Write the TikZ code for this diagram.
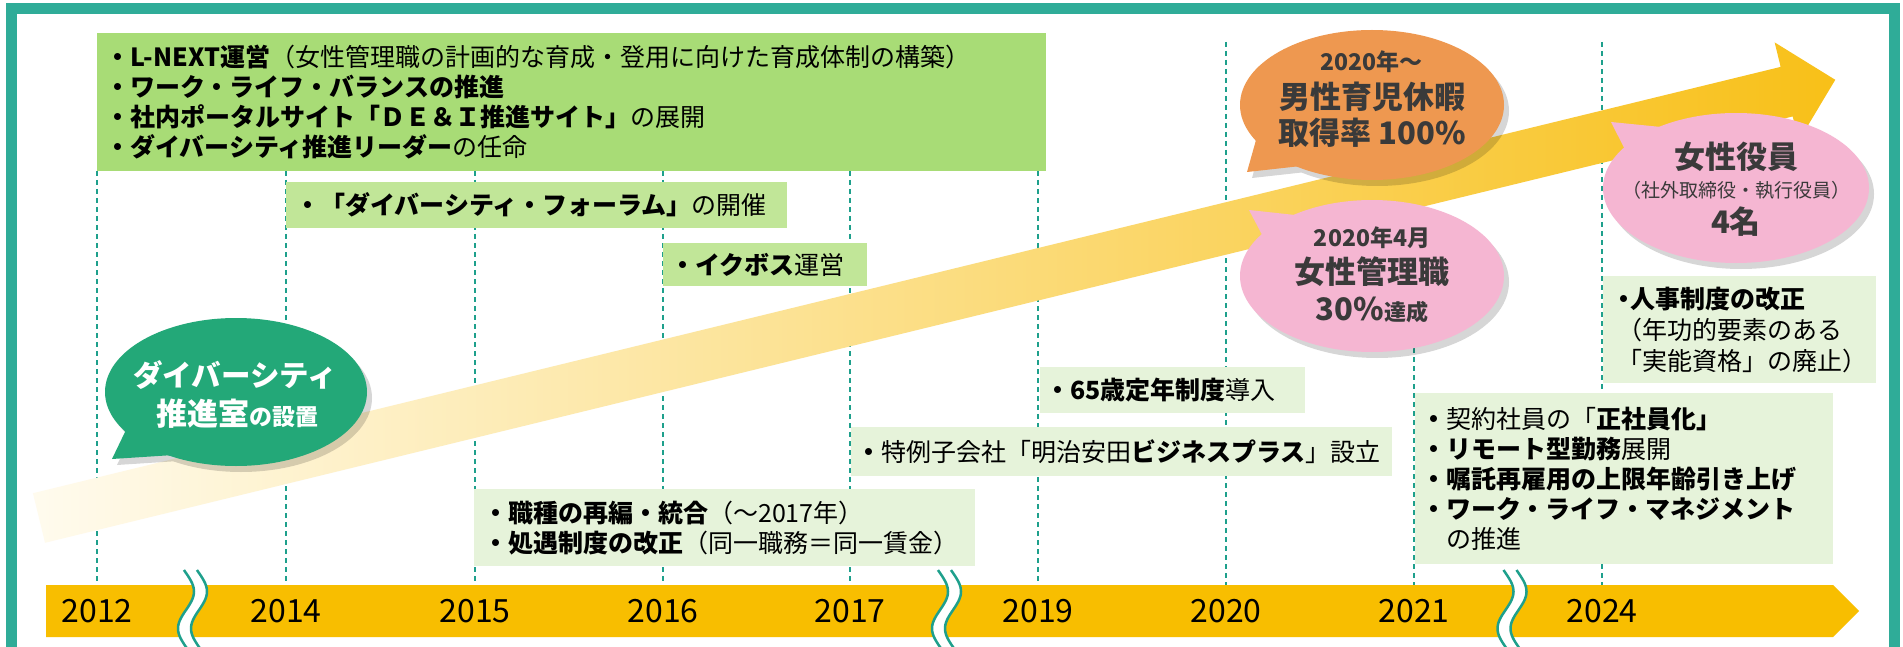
\documentclass[tikz,border=0pt]{standalone}
\usepackage{fontspec}
\setmainfont{Noto Sans CJK JP}
\usetikzlibrary{shapes.geometric}
\definecolor{frameteal}{RGB}{47,172,152}
\definecolor{dashteal}{RGB}{30,160,140}
\definecolor{boxgreen}{RGB}{168,220,118}
\definecolor{midgreen}{RGB}{193,230,152}
\definecolor{palegreen}{RGB}{230,243,218}
\definecolor{baryellow}{RGB}{248,190,0}
\definecolor{arrowA}{RGB}{255,251,238}
\definecolor{arrowB}{RGB}{250,214,100}
\definecolor{arrowC}{RGB}{248,192,24}
\definecolor{bubgreen}{RGB}{35,168,120}
\definecolor{buborange}{RGB}{238,152,80}
\definecolor{bubpink}{RGB}{245,182,210}
\definecolor{bubtext}{RGB}{58,58,58}
\newcommand{\bul}{\textbf{・}}
\tikzset{
 infobox/.style={rectangle, anchor=north west, inner ysep=0pt, align=left, font=\fontsize{25}{30}\selectfont, text=black},
 dashline/.style={dashteal, dash pattern=on 5pt off 4pt, line width=1.3pt},
 bubble/.style={ellipse, inner sep=0pt, draw=none},
 bubshadow/.style={fill=black, opacity=0.16},
 yearlabel/.style={font=\fontsize{32}{32}\selectfont, text=black, inner sep=0pt},
 bubtxt/.style={inner sep=0pt, align=center, text=bubtext},
 bigb/.style={font=\bfseries\fontsize{31}{31}\selectfont},
 smallb/.style={font=\bfseries\fontsize{23}{23}\selectfont},
 brkline/.style={dashteal, line width=2.5pt},
 brk/.pic={
  \fill[white] plot[domain=-40:45, samples=40, variable=\t] ({-6.5+8*sin(4.8649*(\t+37))}, \t)
     -- plot[domain=45:-40, samples=40, variable=\t] ({6.5+8*sin(4.8649*(\t+37))}, \t) -- cycle;
  \draw[brkline] plot[domain=-40:45, samples=40, variable=\t] ({-6.5+8*sin(4.8649*(\t+37))}, \t);
  \draw[brkline] plot[domain=-40:45, samples=40, variable=\t] ({6.5+8*sin(4.8649*(\t+37))}, \t);
 }
}
\begin{document}
\begin{tikzpicture}[x=1pt,y=-1pt]
\useasboundingbox (0,0) rectangle (1903,647);
\clip (0,0) rectangle (1903,647);
\fill[white] (0,0) rectangle (1903,647);
% frame
\draw[frameteal, line width=11pt] (11.5,8.5) rectangle (1894,700);
% dashed year lines
\foreach \xx in {97,286,475,663,850,1038} \draw[dashline] (\xx,171) -- (\xx,585);
\foreach \xx in {1226,1414,1602} \draw[dashline] (\xx,42) -- (\xx,585);
% rising arrow band
\begin{scope}[shift={(39,518)}, rotate=13.71]
\shade[left color=arrowA, middle color=arrowB, right color=arrowC]
  (0,-25.5) -- (1799,-25.5) -- (1799,-50.7) -- (1849,0) -- (1799,50.7) -- (1799,25.5) -- (0,25.5) -- cycle;
\end{scope}
% boxes
\node[infobox, fill=boxgreen, inner xsep=8pt, minimum width=949pt, text width=933pt, minimum height=138pt] (topbox) at (97,33)
 {\bul\textbf{L-NEXT運営}（女性管理職の計画的な育成・登用に向けた育成体制の構築）\\
  \bul\textbf{ワーク・ライフ・バランスの推進}\\
  \bul\textbf{社内ポータルサイト「ＤＥ＆Ｉ推進サイト」}の展開\\
  \bul\textbf{ダイバーシティ推進リーダー}の任命};
\node[infobox, fill=midgreen, inner xsep=9pt, text width=483pt, minimum height=46pt] (forum) at (286,182)
 {\bul\textbf{「ダイバーシティ・フォーラム」}の開催};
\node[infobox, fill=midgreen, inner xsep=7pt, text width=190pt, minimum height=43pt] (ikuboss) at (663,243)
 {\bul\textbf{イクボス}運営};
\node[infobox, fill=palegreen, inner xsep=5pt, text width=255pt, minimum height=46pt] (teinen) at (1040,367)
 {\bul\textbf{65歳定年制度}導入};
\node[infobox, fill=palegreen, inner xsep=5pt, text width=531pt, minimum height=49pt] (tokurei) at (851,427)
 {\bul 特例子会社「明治安田\textbf{ビジネスプラス}」設立};
\node[infobox, fill=palegreen, inner xsep=9pt, text width=483pt, minimum height=77pt] (shokushu) at (474,489)
 {\bul\textbf{職種の再編・統合}（～2017年）\\
  \bul\textbf{処遇制度の改正}（同一職務＝同一賃金）};
\node[infobox, fill=palegreen, inner xsep=14pt, text width=245pt, minimum height=107pt, font=\fontsize{25}{31}\selectfont] (jinji) at (1603,276)
 {\hbox to 13pt{\hss\bul\hss}\textbf{人事制度の改正}\\
  （年功的要素のある\\
  「実能資格」の廃止）};
\node[infobox, fill=palegreen, inner xsep=6pt, text width=406pt, minimum height=171pt] (keiyaku) at (1415,393)
 {\bul 契約社員の「\textbf{正社員化」}\\
  \bul\textbf{リモート型勤務}展開\\
  \bul\textbf{嘱託再雇用の上限年齢引き上げ}\\
  \bul\textbf{ワーク・ライフ・マネジメント}\\
  　の推進};
% green bubble
\begin{scope}[shift={(5,6)}]
\fill[bubshadow] (236,392) ellipse [x radius=131, y radius=74] (112,459) -- (138,405) -- (189,454) -- cycle;
\end{scope}
\fill[bubgreen] (112,459) -- (138,405) -- (189,454) -- cycle;
\node[bubble, fill=bubgreen, minimum width=262pt, minimum height=148pt] (bgreen) at (236,392) {};
\node[bubtxt, text=white, font=\bfseries\fontsize{29.5}{30}\selectfont] (g1) at (235,375) {ダイバーシティ};
\node[bubtxt, text=white, bigb] (g2) at (237,414) {推進室{\fontsize{23}{23}\selectfont の設置}};
% orange bubble
\begin{scope}[shift={(5,6)}]
\fill[bubshadow] (1372,105) ellipse [x radius=132, y radius=75] (1247,172) -- (1265,108) -- (1310,165) -- cycle;
\end{scope}
\fill[buborange] (1247,172) -- (1265,108) -- (1310,165) -- cycle;
\node[bubble, fill=buborange, minimum width=264pt, minimum height=150pt] (borange) at (1372,105) {};
\node[bubtxt, smallb] (o1) at (1371,62) {2020年～};
\node[bubtxt, bigb] (o2) at (1372,97) {男性育児休暇};
\node[bubtxt, bigb] (o3) at (1372,133) {取得率 100\%};
% pink bubble 2020
\begin{scope}[shift={(5,6)}]
\fill[bubshadow] (1372,276) ellipse [x radius=132, y radius=76] (1249,210) -- (1341,220) -- (1279,267) -- cycle;
\end{scope}
\fill[bubpink] (1249,210) -- (1341,220) -- (1279,267) -- cycle;
\node[bubble, fill=bubpink, minimum width=264pt, minimum height=152pt] (bpink) at (1372,276) {};
\node[bubtxt, smallb] (p1) at (1372,238) {2020年4月};
\node[bubtxt, bigb] (p2) at (1372,272) {女性管理職};
\node[bubtxt, bigb] (p3) at (1372,310) {30\%{\fontsize{22}{22}\selectfont 達成}};
% pink bubble executives
\begin{scope}[shift={(5,6)}]
\fill[bubshadow] (1736,188) ellipse [x radius=133, y radius=75] (1611,122) -- (1711,132) -- (1644,187) -- cycle;
\end{scope}
\fill[bubpink] (1611,122) -- (1711,132) -- (1644,187) -- cycle;
\node[bubble, fill=bubpink, minimum width=266pt, minimum height=150pt] (bexec) at (1736,188) {};
\node[bubtxt, bigb] (q1) at (1736,157) {女性役員};
\node[bubtxt, font=\fontsize{19}{19}\selectfont] (q2) at (1736,190) {（社外取締役・執行役員）};
\node[bubtxt, bigb] (q3) at (1736,222) {4名};
% timeline bar
\fill[baryellow] (46,585) -- (1833,585) -- (1859,611) -- (1833,637) -- (46,637) -- cycle;
\pic at (192.5,610) {brk};
\pic at (946.5,610) {brk};
\pic at (1512,610) {brk};
\node[yearlabel] (y2012) at (97,611) {2012};
\node[yearlabel] (y2014) at (286,611) {2014};
\node[yearlabel] (y2015) at (475,611) {2015};
\node[yearlabel] (y2016) at (663,611) {2016};
\node[yearlabel] (y2017) at (850,611) {2017};
\node[yearlabel] (y2019) at (1038,611) {2019};
\node[yearlabel] (y2020) at (1226,611) {2020};
\node[yearlabel] (y2021) at (1414,611) {2021};
\node[yearlabel] (y2024) at (1602,611) {2024};
\end{tikzpicture}
\end{document}
